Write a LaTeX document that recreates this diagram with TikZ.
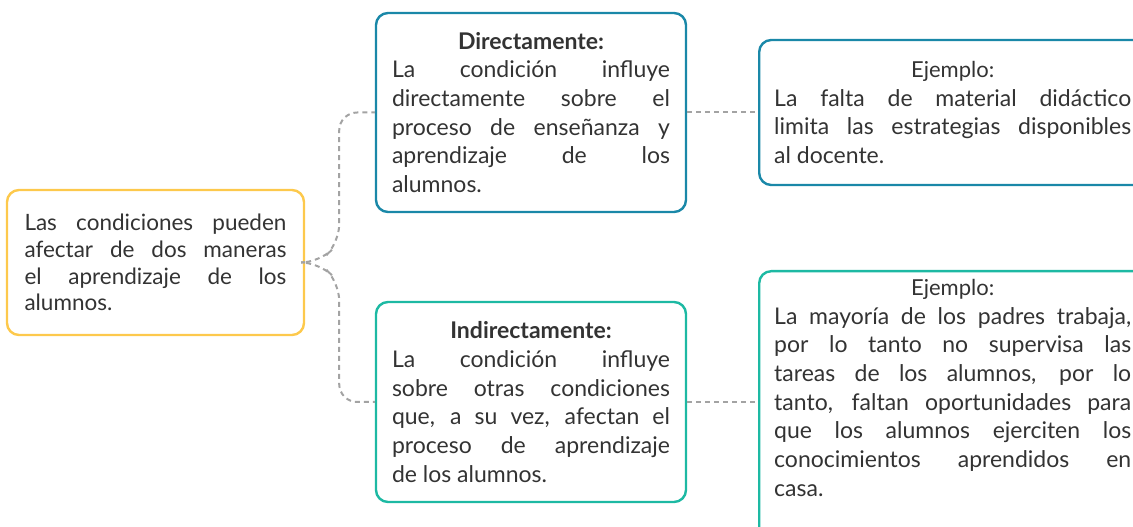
\documentclass[tikz,border=0pt]{standalone}
\usepackage{fontspec}
\setmainfont{Lato}
\usetikzlibrary{positioning}
\definecolor{amarillo}{HTML}{FDC94C}
\definecolor{azul}{HTML}{1A88A8}
\definecolor{turquesa}{HTML}{1DB9A3}
\definecolor{guion}{HTML}{A3A3A3}
\definecolor{texto}{HTML}{333333}

\begin{document}
\begin{tikzpicture}[x=1pt, y=1pt,
  caja/.style = {draw=#1, line width=2.4pt, rounded corners=12pt, align=justify,
                 text=texto, inner ysep=8pt, font=\fontsize{23}{28.7}\selectfont},
  conn/.style = {draw=guion, line width=2pt, dash pattern=on 5pt off 4pt}]

\useasboundingbox (0, 0) rectangle (1133, 527);
\clip (0, 0) rectangle (1133, 527);

\node[caja=amarillo, text width=262, minimum width=297, minimum height=145,
      font=\fontsize{22.5}{26.7}\selectfont] (cond) at (155.5, 264.5)
  {Las condiciones pueden\linebreak afectar de dos maneras\linebreak
   el aprendizaje de los\linebreak alumnos.};

\node[caja=azul, text width=278, minimum width=310, minimum height=199] (dir) at (531, 414.5)
  {{\centering\fontsize{23}{28.7}\selectfont\bfseries Directamente:\par}
   La condición influye\linebreak directamente sobre el\linebreak
   proceso de enseñanza y\linebreak aprendizaje de los\linebreak alumnos.};

\node[caja=turquesa, text width=278, minimum width=310, minimum height=200] (indir) at (531, 125)
  {{\centering\fontsize{23}{28.7}\selectfont\bfseries Indirectamente:\par}
   La condición influye\linebreak sobre otras condiciones\linebreak
   que, a su vez, afectan el\linebreak proceso de aprendizaje\linebreak de los alumnos.};

\node[caja=azul, anchor=west, text width=357, inner xsep=15pt, minimum height=145] (ej1) at (758, 414.5)
  {{\centering\fontsize{22}{28.7}\selectfont Ejemplo:\par}
   La falta de material didáctico\linebreak limita las estrategias disponibles\linebreak
   al docente.};

\node[caja=turquesa, anchor=north west, text width=357, inner xsep=15pt] (ej2) at (758, 257)
  {{\centering\fontsize{22}{28.7}\selectfont Ejemplo:\par}
   La mayoría de los padres trabaja,\linebreak por lo tanto no supervisa las\linebreak
   tareas de los alumnos, por lo\linebreak tanto, faltan oportunidades para\linebreak
   que los alumnos ejerciten los\linebreak conocimientos aprendidos en\linebreak
   casa.\par\vspace{40pt}\mbox{}};

\draw[conn, rounded corners=18pt] (cond.east) -- ++(14, 0) -- ++(20, 20) |- (dir.west);
\draw[conn, rounded corners=18pt] (cond.east) -- ++(14, 0) -- ++(20, -20) |- (indir.west);

\draw[conn] (dir.east) -- (ej1.west);
\draw[conn] (indir.east) -- (indir.east -| ej2.west);

\end{tikzpicture}
\end{document}
